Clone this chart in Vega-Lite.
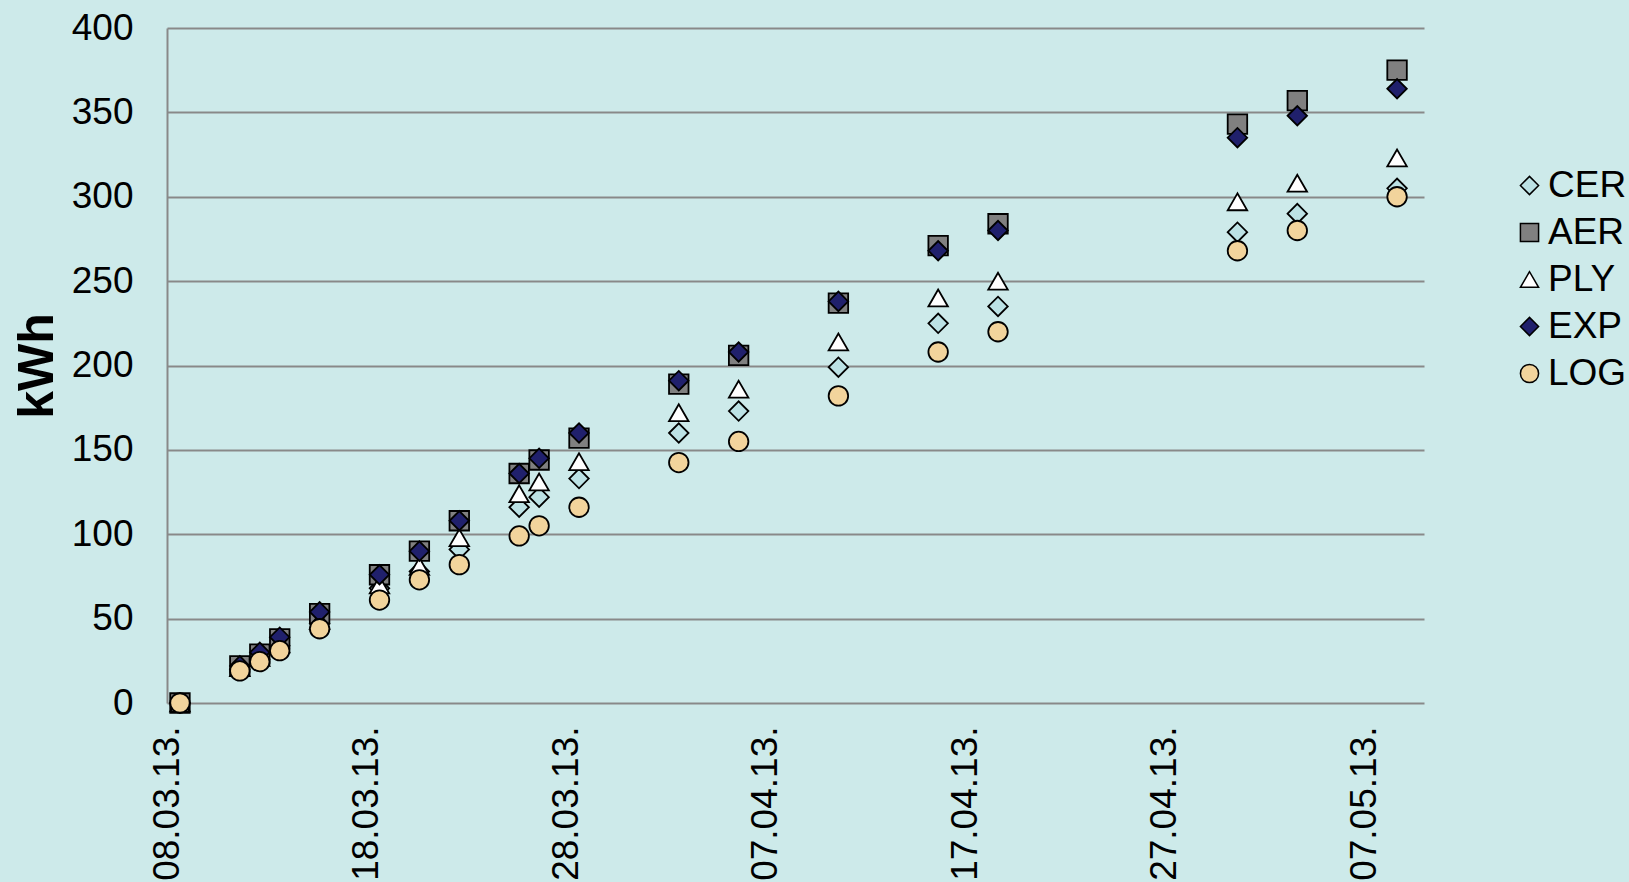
{
  "$schema": "https://vega.github.io/schema/vega-lite/v6.json",
  "autosize": {"type": "none"},
  "padding": {"left": 167, "top": 28, "right": 205, "bottom": 179},
  "width": 1257,
  "height": 675,
  "background": "#cdeaea",
  "data": {
    "values": [
      {"date": "2013-03-08", "CER": 0, "AER": 0, "PLY": 0, "EXP": 0, "LOG": 0},
      {"date": "2013-03-11", "CER": 20, "AER": 22, "PLY": 21, "EXP": 22, "LOG": 19},
      {"date": "2013-03-12", "CER": 26, "AER": 29, "PLY": 27, "EXP": 30, "LOG": 24.5},
      {"date": "2013-03-13", "CER": 34, "AER": 38, "PLY": 35, "EXP": 39, "LOG": 31},
      {"date": "2013-03-15", "CER": 47, "AER": 53, "PLY": 49, "EXP": 54, "LOG": 44},
      {"date": "2013-03-18", "CER": 68, "AER": 76, "PLY": 70, "EXP": 76, "LOG": 61},
      {"date": "2013-03-20", "CER": 78, "AER": 90, "PLY": 81, "EXP": 90, "LOG": 73},
      {"date": "2013-03-22", "CER": 91, "AER": 108, "PLY": 98, "EXP": 108, "LOG": 82},
      {"date": "2013-03-25", "CER": 116, "AER": 136, "PLY": 124, "EXP": 136, "LOG": 99},
      {"date": "2013-03-26", "CER": 122, "AER": 144, "PLY": 131, "EXP": 145, "LOG": 105},
      {"date": "2013-03-28", "CER": 133, "AER": 157, "PLY": 143, "EXP": 160, "LOG": 116},
      {"date": "2013-04-02", "CER": 160, "AER": 189, "PLY": 172, "EXP": 191, "LOG": 142.5},
      {"date": "2013-04-05", "CER": 173, "AER": 206, "PLY": 186, "EXP": 208, "LOG": 155},
      {"date": "2013-04-10", "CER": 199, "AER": 237, "PLY": 214, "EXP": 238, "LOG": 182},
      {"date": "2013-04-15", "CER": 225, "AER": 271, "PLY": 240, "EXP": 268, "LOG": 208},
      {"date": "2013-04-18", "CER": 235, "AER": 284, "PLY": 250, "EXP": 280, "LOG": 220},
      {"date": "2013-04-30", "CER": 279, "AER": 343, "PLY": 297, "EXP": 335, "LOG": 268},
      {"date": "2013-05-03", "CER": 290, "AER": 357, "PLY": 308, "EXP": 348, "LOG": 280},
      {"date": "2013-05-08", "CER": 305, "AER": 375, "PLY": 323, "EXP": 364, "LOG": 300}
    ]
  },
  "transform": [
    {"fold": ["CER", "AER", "PLY", "EXP", "LOG"], "as": ["series", "kWh"]}
  ],
  "mark": {"type": "point", "filled": true, "opacity": 1, "size": 380, "strokeWidth": 1.8},
  "encoding": {
    "x": {
      "field": "date",
      "type": "temporal",
      "timeUnit": "utcyearmonthdate",
      "bandPosition": 0.65,
      "scale": {
        "type": "utc",
        "nice": false,
        "domain": [
          {"year": 2013, "month": 3, "date": 8, "utc": true},
          {"year": 2013, "month": 5, "date": 10, "utc": true}
        ]
      },
      "axis": {
        "title": null,
        "values": [
          {"year": 2013, "month": 3, "date": 8, "utc": true},
          {"year": 2013, "month": 3, "date": 18, "utc": true},
          {"year": 2013, "month": 3, "date": 28, "utc": true},
          {"year": 2013, "month": 4, "date": 7, "utc": true},
          {"year": 2013, "month": 4, "date": 17, "utc": true},
          {"year": 2013, "month": 4, "date": 27, "utc": true},
          {"year": 2013, "month": 5, "date": 7, "utc": true}
        ],
        "format": "%d.%m.%y.",
        "labelAngle": 270,
        "labelAlign": "right",
        "labelBaseline": "middle",
        "labelPadding": 23,
        "labelFont": "Liberation Sans",
        "labelFontSize": 37,
        "labelColor": "#000000",
        "labelOverlap": false,
        "labelBound": false,
        "labelFlush": false,
        "ticks": false,
        "domain": false,
        "grid": false
      }
    },
    "y": {
      "field": "kWh",
      "type": "quantitative",
      "scale": {"domain": [0, 400], "nice": false, "zero": true},
      "axis": {
        "title": "kWh",
        "titleFont": "Liberation Sans",
        "titleFontSize": 50,
        "titleFontWeight": "bold",
        "titleColor": "#000000",
        "titlePadding": 9,
        "values": [0, 50, 100, 150, 200, 250, 300, 350, 400],
        "labelFont": "Liberation Sans",
        "labelFontSize": 37,
        "labelColor": "#000000",
        "labelPadding": 34,
        "labelFlush": false,
        "labelOverlap": false,
        "ticks": false,
        "domain": true,
        "domainColor": "#898989",
        "domainWidth": 2,
        "grid": true,
        "gridColor": "#898989",
        "gridWidth": 2
      }
    },
    "shape": {
      "field": "series",
      "type": "nominal",
      "sort": ["CER", "AER", "PLY", "EXP", "LOG"],
      "scale": {
        "domain": ["CER", "AER", "PLY", "EXP", "LOG"],
        "range": ["diamond", "square", "triangle-up", "diamond", "circle"]
      },
      "legend": {
        "title": null,
        "orient": "none",
        "legendX": 1344,
        "legendY": 139,
        "labelFont": "Liberation Sans",
        "labelFontSize": 37,
        "labelColor": "#000000",
        "labelOffset": 0,
        "rowPadding": 9,
        "symbolSize": 330,
        "symbolStrokeWidth": 1.5
      }
    },
    "fill": {
      "field": "series",
      "type": "nominal",
      "sort": ["CER", "AER", "PLY", "EXP", "LOG"],
      "scale": {
        "domain": ["CER", "AER", "PLY", "EXP", "LOG"],
        "range": ["#bce2e5", "#808080", "#ffffff", "#20206c", "#f2d49c"]
      }
    },
    "stroke": {
      "field": "series",
      "type": "nominal",
      "sort": ["CER", "AER", "PLY", "EXP", "LOG"],
      "scale": {
        "domain": ["CER", "AER", "PLY", "EXP", "LOG"],
        "range": ["#000000", "#000000", "#000000", "#000000", "#000000"]
      }
    }
  },
  "config": {
    "view": {"stroke": null}
  }
}
